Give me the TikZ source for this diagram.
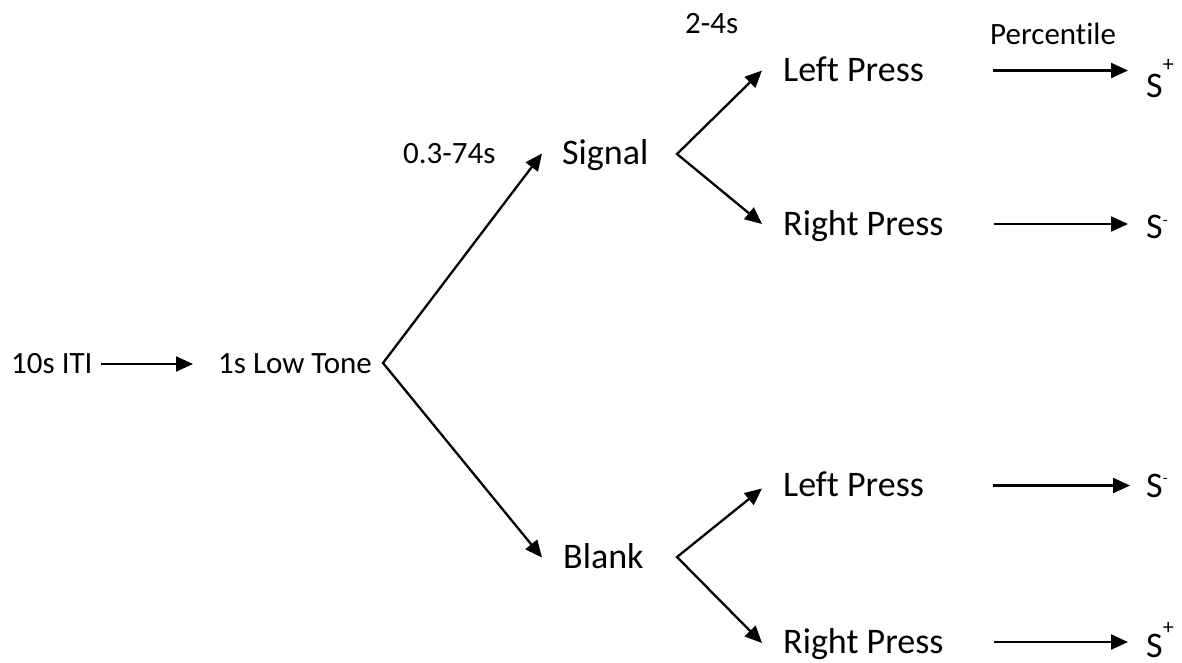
\documentclass[tikz,border=0pt]{standalone}
\usepackage{fontspec}
\setmainfont{Carlito}[Ligatures=NoCommon]
\usetikzlibrary{arrows.meta,calc}
\newcommand{\bigfont}{\fontsize{36}{40}\selectfont}
\newcommand{\smallfont}{\fontsize{31}{36}\selectfont}
% raised sign after an outcome letter
\newcommand{\Sign}[3]{\raisebox{#1}{\fontsize{#2}{#2}\selectfont #3}}
\begin{document}
\begin{tikzpicture}[x=1pt,y=-1pt,
  lbl/.style={inner sep=0pt, anchor=west, text depth=0pt},
  big/.style={lbl, font=\bigfont, text height=22.7pt},
  small/.style={lbl, font=\smallfont, text height=19.5pt},
  arr/.style={line width=2.3pt, -{Triangle[length=17pt,width=15pt]}},
  fork/.style={line width=2.3pt, line join=miter,
    {Triangle[length=17pt,width=15pt]}-{Triangle[length=17pt,width=15pt]}}]
\useasboundingbox (0,0) rectangle (1182,662);

% labels
\node[small] (iti)    at (11,364)    {10s ITI};
\node[small] (low)    at (218,364)   {1s Low Tone};
\node[small] (delay)  at (403,153.5) {0.3-74s};
\node[big]   (signal) at (562,153.5) {Signal};
\node[big]   (blank)  at (563,557.5) {Blank};
\node[small] (hold)   at (685,23.5)  {2-4s};
\node[big]   (lp1)    at (783,70.5)  {Left Press};
\node[big]   (rp1)    at (783,224)   {Right Press};
\node[big]   (lp2)    at (783,485.5) {Left Press};
\node[big]   (rp2)    at (783,642)   {Right Press};
\node[small] (pct)    at (990,35)    {Percentile};

% outcomes
\node[big] (o1) at (1146,86.5) {S\Sign{26pt}{22}{+}};
\node[big] (o2) at (1146,227.5) {S\Sign{13.5pt}{16}{-}};
\node[big] (o3) at (1146,486) {S\Sign{13.5pt}{16}{-}};
\node[big] (o4) at (1146,646) {S\Sign{23pt}{22}{+}};

% branch points
\coordinate (f0) at (383,363);
\coordinate (f1) at (677,154);
\coordinate (f2) at (677,557);

% arrow ends in front of the labels
\coordinate (t-sig)   at ($(signal.west)+(-20,0)$);
\coordinate (t-blank) at ($(blank.west)+(-21,0)$);
\coordinate (t-lp1)   at ($(lp1.west)+(-21,0)$);
\coordinate (t-rp1)   at ($(rp1.west)+(-21,0)$);
\coordinate (t-lp2)   at ($(lp2.west)+(-21,3)$);
\coordinate (t-rp2)   at ($(rp2.west)+(-21,1)$);

% connectors
\draw[arr, shorten <=8pt, shorten >=25pt] (iti.east) -- (low.west);
\draw[fork] (t-sig) -- (f0) -- (t-blank);
\draw[fork] (t-lp1) -- (f1) -- (t-rp1);
\draw[fork] (t-lp2) -- (f2) -- (t-rp2);

\draw[arr, shorten <=69pt, shorten >=18pt] (lp1.east) -- (lp1.east -| o1.west);
\draw[arr, shorten <=50pt, shorten >=18pt] (rp1.east) -- (rp1.east -| o2.west);
\draw[arr, shorten <=69pt, shorten >=16pt] (lp2.east) -- (lp2.east -| o3.west);
\draw[arr, shorten <=50pt, shorten >=18pt] (rp2.east) -- (rp2.east -| o4.west);
\end{tikzpicture}
\end{document}
